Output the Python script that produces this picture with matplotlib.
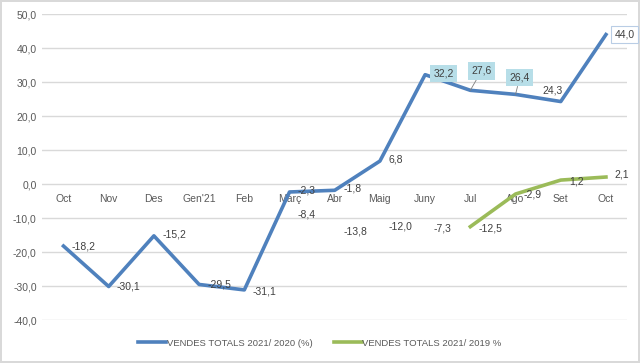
import matplotlib.pyplot as plt
import numpy as np

plt.rcParams['font.family'] = ['Liberation Sans', 'DejaVu Sans']

months = ['Oct', 'Nov', 'Des', "Gen'21", 'Feb', 'Març', 'Abr', 'Maig',
          'Juny', 'Jul', 'Ago', 'Set', 'Oct']
vs2020 = [-18.2, -30.1, -15.2, -29.5, -31.1, -2.3, -1.8, 6.8,
          32.2, 27.6, 26.4, 24.3, 44.0]
# 2019 comparison starts in Març; line only drawn from Jul
vs2019 = [np.nan] * 5 + [-8.4, -13.8, -12.0, -7.3, -12.5, -2.9, 1.2, 2.1]
line2019_from = 9

blue = '#4F81BD'
green = '#9BBB59'
txt = '#595959'

fig = plt.figure(figsize=(6.4, 3.63), dpi=100)
fig.patch.set_edgecolor('#d9d9d9')
fig.patch.set_linewidth(1.5)
ax = fig.add_axes([0.066, 0.118, 0.914, 0.843])

x = np.arange(len(months))
y19 = np.array(vs2019)
y19_line = np.where(x >= line2019_from, y19, np.nan)
ax.plot(x, vs2020, color=blue, lw=2.6, label='VENDES TOTALS 2021/ 2020 (%)', zorder=3)
ax.plot(x, y19_line, color=green, lw=2.6, label='VENDES TOTALS 2021/ 2019 %', zorder=3)

ax.set_xlim(-0.47, len(months) - 0.53)
ax.set_ylim(-40, 50)
ax.set_yticks(np.arange(-40, 51, 10))
ax.set_yticklabels([f'{v:.1f}'.replace('.', ',') for v in np.arange(-40, 51, 10)])
ax.yaxis.grid(True, color='#d9d9d9', lw=1)
ax.set_axisbelow(True)
for s in ax.spines.values():
    s.set_visible(False)
ax.spines['bottom'].set_position(('data', 0))
ax.set_xticks(x)
ax.set_xticklabels(months)
ax.tick_params(length=0, colors=txt, labelsize=7.5)
ax.tick_params(axis='x', pad=7)
ax.tick_params(axis='y', pad=4)

def lab(v):
    return f'{v:.1f}'.replace('.', ',')

fs = 7.5
# offsets (points) and alignment for the 2020 labels
off20 = [(6, 0), (6, 0), (6, 1), (6, 0), (6, -1), (6, 1), (6, 1), (6, 1),
         (6, 1), (8, 14), (3, 12), (-6, 8), (6, 0)]
for i, v in enumerate(vs2020):
    dx, dy = off20[i]
    kw = dict(textcoords='offset points', fontsize=fs, color='#404040',
              va='center', ha='left')
    if i in (9, 10, 11):
        kw['ha'] = 'center'
    if i in (8, 9, 10):
        kw['bbox'] = dict(boxstyle='square,pad=0.35', fc='#B7DEE8', ec='none')
    if i == 12:
        kw['bbox'] = dict(boxstyle='square,pad=0.3', fc='white', ec='#B9CDE5', lw=0.8)
    if i in (9, 10):
        kw['arrowprops'] = dict(arrowstyle='-', color='#7f7f7f', lw=0.6,
                                shrinkA=0, shrinkB=0)
    ax.annotate(lab(v), (x[i], v), xytext=(dx, dy), **kw)

off19 = {5: (6, -1), 6: (6, 0), 7: (6, -1), 8: (6, -14), 9: (6, -1),
         10: (6, 0), 11: (6, -1), 12: (6, 2)}
for i, v in enumerate(vs2019):
    if np.isnan(v):
        continue
    dx, dy = off19[i]
    ax.annotate(lab(v), (x[i], v), xytext=(dx, dy), textcoords='offset points',
                fontsize=fs, color='#404040', va='center', ha='left')

fig.legend(loc='center', bbox_to_anchor=(0.5, 0.055), ncol=2, frameon=False,
           fontsize=6.8, handlelength=2.9, handletextpad=0.1, columnspacing=2.3,
           labelcolor=txt)

fig.savefig('out.png', dpi=100, edgecolor=fig.get_edgecolor())
